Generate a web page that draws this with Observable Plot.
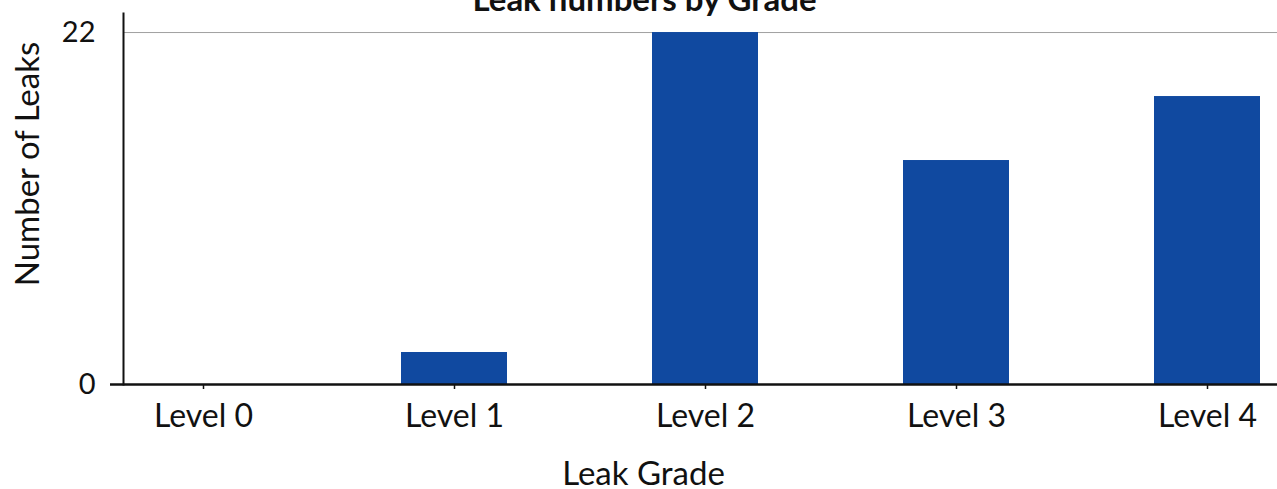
<!DOCTYPE html>
<html>
<head>
<meta charset="utf-8">
<script src="https://cdn.jsdelivr.net/npm/d3@7"></script>
<script src="https://cdn.jsdelivr.net/npm/@observablehq/plot@0.6"></script>
<style>
  html, body { margin: 0; padding: 0; background: #fff; }
  #chart svg { display: block; font-family: Lato, "Noto Sans", sans-serif; }
</style>
</head>
<body>
<div id="chart"></div>
<script>
const categories = ["Level 0", "Level 1", "Level 2", "Level 3", "Level 4"];
const leaks = [0, 2, 22, 14, 18];
const yTicks = [0, 22];
const title = "Leak numbers by Grade";
const xLabel = "Leak Grade";
const yLabel = "Number of Leaks";

const data = categories.map((c, i) => ({grade: c, leaks: leaks[i]}));

const chart = Plot.plot({
  width: 1277,
  height: 489,
  marginTop: 13,
  marginBottom: 105,
  marginLeft: 123,
  marginRight: 0,
  style: {fontFamily: "Lato, 'Noto Sans', sans-serif", background: "#fff", overflow: "visible"},
  x: {domain: categories, paddingInner: 0.578, paddingOuter: 0.0876, align: 0.61, label: null},
  y: {domain: [0, 23.19], label: null},
  marks: [
    Plot.gridY(yTicks.filter(d => d > 0), {stroke: "#a0a0a0", strokeOpacity: 1, strokeWidth: 1}),
    Plot.barY(data, {x: "grade", y: "leaks", fill: "#1049a0"}),
    Plot.axisY(yTicks, {tickSize: 0, tickPadding: 28, fontSize: 29, color: "#111"}),
    Plot.axisX({tickSize: 5, tickPadding: 15, fontSize: 32, color: "#111", strokeWidth: 1.5}),
    Plot.frame({anchor: "left", stroke: "#111", strokeWidth: 2}),
    Plot.ruleY([0], {stroke: "#111", strokeWidth: 2.5, insetLeft: -13}),
    Plot.text([yLabel], {frameAnchor: "left", textAnchor: "middle", rotate: -90, dx: -95, dy: -35, fontSize: 33, fill: "#111"}),
    Plot.text([xLabel], {frameAnchor: "bottom", textAnchor: "middle", dx: -57, dy: 100, fontSize: 33, fill: "#111"}),
    Plot.text([title], {frameAnchor: "top", textAnchor: "middle", lineAnchor: "bottom", dx: -56, dy: -3, fontSize: 33, fontWeight: "bold", fill: "#111"})
  ]
});
document.getElementById("chart").appendChild(chart);
</script>
</body>
</html>
